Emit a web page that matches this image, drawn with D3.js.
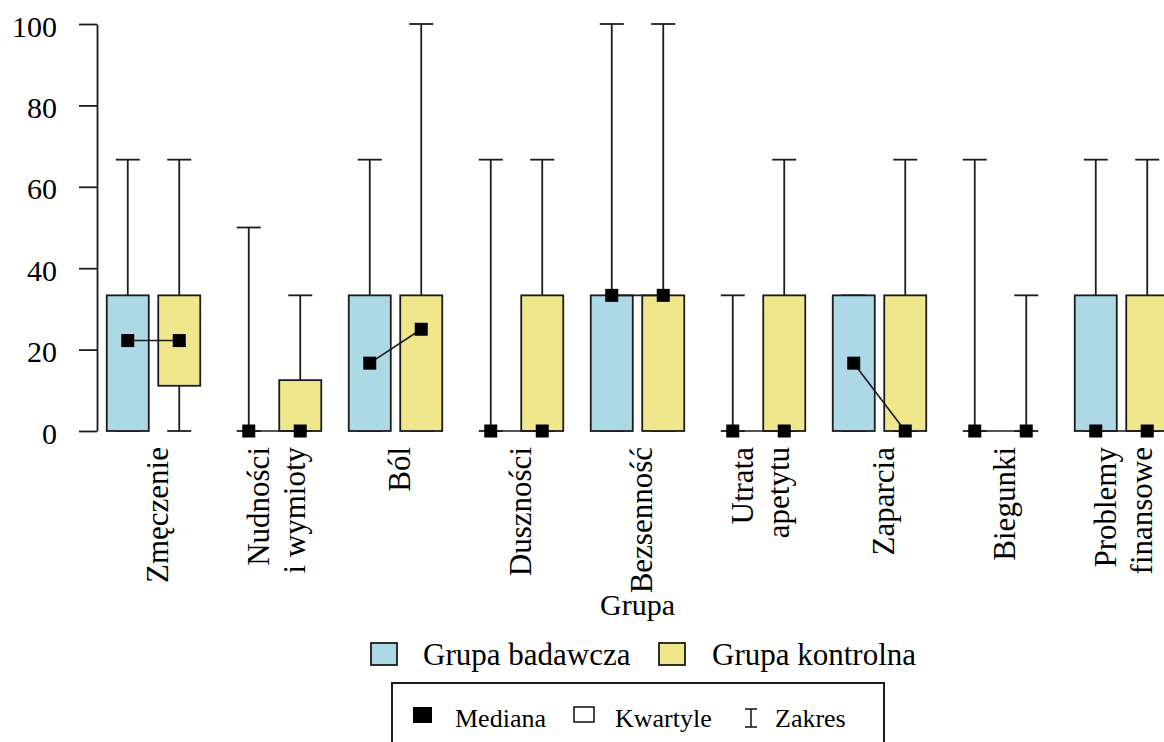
<!DOCTYPE html>
<html>
<head>
<meta charset="utf-8">
<script src="https://cdn.jsdelivr.net/npm/d3@7"></script>
<style>
  html, body { margin: 0; padding: 0; background: #fff; }
  svg text { font-family: "Liberation Serif", "Times New Roman", serif; }
</style>
</head>
<body>
<svg id="chart" width="1164" height="742"></svg>
<script>
// Symptom categories (x axis)
const categories = ["Zmęczenie", "Nudności i wymioty", "Ból", "Duszności", "Bezsenność",
                    "Utrata apetytu", "Zaparcia", "Biegunki", "Problemy finansowe"];
const groups = ["Grupa badawcza", "Grupa kontrolna"];
const groupColors = ["#ADD8E6", "#F0E68C"];
const yTicks = [0, 20, 40, 60, 80, 100];

// Grupa badawcza: min, Q1, median, Q3, max
const badMin = [0, 0, 0, 0, 0, 0, 0, 0, 0];
const badQ1  = [0, 0, 0, 0, 0, 0, 0, 0, 0];
const badMed = [22.22, 0, 16.67, 0, 33.33, 0, 16.67, 0, 0];
const badQ3  = [33.33, 0, 33.33, 0, 33.33, 0, 33.33, 0, 33.33];
const badMax = [66.67, 50, 66.67, 66.67, 100, 33.33, 33.33, 66.67, 66.67];

// Grupa kontrolna: min, Q1, median, Q3, max
const konMin = [0, 0, 0, 0, 0, 0, 0, 0, 0];
const konQ1  = [11.11, 0, 0, 0, 0, 0, 0, 0, 0];
const konMed = [22.22, 0, 25, 0, 33.33, 0, 0, 0, 0];
const konQ3  = [33.33, 12.5, 33.33, 33.33, 33.33, 33.33, 33.33, 0, 33.33];
const konMax = [66.67, 33.33, 100, 66.67, 100, 66.67, 66.67, 33.33, 66.67];

const series = [
  { min: badMin, q1: badQ1, med: badMed, q3: badQ3, max: badMax },
  { min: konMin, q1: konQ1, med: konMed, q3: konQ3, max: konMax }
];

const stats = [];
categories.forEach((cat, i) => {
  groups.forEach((g, j) => {
    const s = series[j];
    stats.push({ cat, group: g, gi: j, ci: i,
      min: s.min[i], q1: s.q1[i], med: s.med[i], q3: s.q3[i], max: s.max[i] });
  });
});

const serif = "Liberation Serif, Times New Roman, serif";
const svg = d3.select("#chart").attr("font-family", serif);
const ink = "#1c1c1c";
const lw = 1.8;

const x = d3.scaleBand().domain(categories).range([93, 1182]);
const xSub = d3.scaleBand().domain(groups).range([0, x.bandwidth()])
  .paddingInner(0.184).paddingOuter(0.267);
const y = d3.scaleLinear().domain([0, 100]).range([431, 24]);

const cx = d => x(d.cat) + xSub(d.group) + xSub.bandwidth() / 2;
const capW = 24;

// Y axis
const yAxis = svg.append("g")
  .attr("transform", "translate(97,0)")
  .call(d3.axisLeft(y).tickValues(yTicks).tickSize(18).tickSizeOuter(0).tickPadding(22));
yAxis.attr("font-family", serif);
yAxis.select(".domain").attr("stroke", ink).attr("stroke-width", lw);
yAxis.selectAll(".tick line").attr("stroke", ink).attr("stroke-width", lw);
yAxis.selectAll(".tick text")
  .attr("font-family", serif)
  .attr("font-size", 30).attr("fill", "#000").attr("dy", "0.4em");

const plot = svg.append("g");

// Whiskers
plot.selectAll("line.whisker-up").data(stats).join("line")
  .attr("x1", cx).attr("x2", cx)
  .attr("y1", d => y(d.q3)).attr("y2", d => y(d.max))
  .attr("stroke", ink).attr("stroke-width", lw);
plot.selectAll("line.whisker-low").data(stats).join("line")
  .attr("x1", cx).attr("x2", cx)
  .attr("y1", d => y(d.q1)).attr("y2", d => y(d.min))
  .attr("stroke", ink).attr("stroke-width", lw);

// Range caps
plot.selectAll("line.cap-max").data(stats).join("line")
  .attr("x1", d => cx(d) - capW / 2).attr("x2", d => cx(d) + capW / 2)
  .attr("y1", d => y(d.max)).attr("y2", d => y(d.max))
  .attr("stroke", ink).attr("stroke-width", lw);
plot.selectAll("line.cap-min").data(stats).join("line")
  .attr("x1", d => cx(d) - capW / 2).attr("x2", d => cx(d) + capW / 2)
  .attr("y1", d => y(d.min)).attr("y2", d => y(d.min))
  .attr("stroke", ink).attr("stroke-width", lw);

// Quartile boxes
plot.selectAll("rect.box").data(stats).join("rect")
  .attr("x", d => x(d.cat) + xSub(d.group))
  .attr("width", xSub.bandwidth())
  .attr("y", d => y(d.q3))
  .attr("height", d => y(d.q1) - y(d.q3))
  .attr("fill", d => groupColors[d.gi])
  .attr("stroke", ink).attr("stroke-width", lw);

// Lines joining the two medians in each category
const medPairs = categories.map((cat, i) => ({
  a: stats[i * 2], b: stats[i * 2 + 1]
}));
plot.selectAll("line.med-link").data(medPairs).join("line")
  .attr("x1", d => cx(d.a)).attr("y1", d => y(d.a.med))
  .attr("x2", d => cx(d.b)).attr("y2", d => y(d.b.med))
  .attr("stroke", ink).attr("stroke-width", 1.6);

// Median markers
const ms = 13;
plot.selectAll("rect.median").data(stats).join("rect")
  .attr("x", d => cx(d) - ms / 2).attr("y", d => y(d.med) - ms / 2)
  .attr("width", ms).attr("height", ms).attr("fill", "#000");

// Category labels, rotated
const labels = svg.append("g").attr("font-family", serif)
  .attr("font-size", 31).attr("fill", "#000");
categories.forEach(cat => {
  const sp = cat.indexOf(" ");
  const lines = sp < 0 ? [cat] : [cat.slice(0, sp), cat.slice(sp + 1)];
  const n = lines.length;
  const c = x(cat) + x.bandwidth() / 2;
  lines.forEach((ln, i) => {
    const bx = c + 14 - (n - 1) * 2 + (i - (n - 1) / 2) * 36;
    labels.append("text")
      .attr("transform", `translate(${bx},447) rotate(-90)`)
      .attr("text-anchor", "end")
      .text(ln);
  });
});

// Axis title
svg.append("text")
  .attr("x", (x.range()[0] + x.range()[1]) / 2).attr("y", 615)
  .attr("text-anchor", "middle").attr("font-size", 30).attr("fill", "#000")
  .attr("font-family", serif)
  .text("Grupa");

// Group legend
const legend = svg.append("g").attr("font-family", serif)
  .attr("font-size", 31).attr("fill", "#000");
const legendPos = [{ sx: 371, tx: 423 }, { sx: 659, tx: 712 }];
groups.forEach((g, j) => {
  legend.append("rect")
    .attr("x", legendPos[j].sx).attr("y", 643).attr("width", 26).attr("height", 22)
    .attr("fill", groupColors[j]).attr("stroke", ink).attr("stroke-width", lw);
  legend.append("text").attr("x", legendPos[j].tx).attr("y", 665).text(g);
});

// Symbol key box
const key = svg.append("g").attr("font-family", serif)
  .attr("font-size", 26).attr("fill", "#000");
key.append("rect").attr("x", 392).attr("y", 683).attr("width", 492).attr("height", 90)
  .attr("fill", "none").attr("stroke", ink).attr("stroke-width", 2);
key.append("rect").attr("x", 413).attr("y", 707).attr("width", 19).attr("height", 16)
  .attr("fill", "#000");
key.append("text").attr("x", 455).attr("y", 727).text("Mediana");
key.append("rect").attr("x", 574).attr("y", 707).attr("width", 20).attr("height", 15)
  .attr("fill", "#fff").attr("stroke", ink).attr("stroke-width", 1.6);
key.append("text").attr("x", 615).attr("y", 727).text("Kwartyle");
const ix = 751;
key.append("line").attr("x1", ix).attr("x2", ix).attr("y1", 709).attr("y2", 727)
  .attr("stroke", ink).attr("stroke-width", 1.6);
key.append("line").attr("x1", ix - 6).attr("x2", ix + 6).attr("y1", 709).attr("y2", 709)
  .attr("stroke", ink).attr("stroke-width", 1.6);
key.append("line").attr("x1", ix - 6).attr("x2", ix + 6).attr("y1", 727).attr("y2", 727)
  .attr("stroke", ink).attr("stroke-width", 1.6);
key.append("text").attr("x", 775).attr("y", 727).text("Zakres");
</script>
</body>
</html>
